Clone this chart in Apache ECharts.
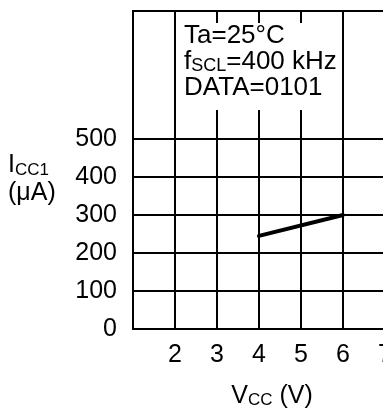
<!DOCTYPE html>
<html>
<head>
<meta charset="utf-8">
<script src="https://cdn.jsdelivr.net/npm/echarts@6/dist/echarts.min.js"></script>
<style>html,body{margin:0;padding:0;background:#fff}#c{width:383px;height:412px}</style>
</head>
<body>
<div id="c"></div>
<script>
const xTicks = [2, 3, 4, 5, 6, 7];
const yTicks = [0, 100, 200, 300, 400, 500];
const gridLevels = [100, 200, 300, 400, 500];
const vcc = [4, 6];
const icc = [245, 300];
const notes = ['Ta=25°C', 'f{s|SCL}=400 kHz', 'DATA=0101'];

const FONT = '"Liberation Sans", Arial, sans-serif';
const chart = echarts.init(document.getElementById('c'), null, {renderer: 'canvas'});
chart.setOption({
  animation: false,
  backgroundColor: '#fff',
  textStyle: {fontFamily: FONT, color: '#000'},
  grid: {left: 133, top: 11, width: 294, height: 318, containLabel: false, outerBoundsMode: 'none',
         show: true, borderColor: '#000', borderWidth: 2, backgroundColor: 'transparent'},
  xAxis: {
    type: 'value', min: 1, max: 8, interval: 1,
    axisLine: {show: true, lineStyle: {color: '#000', width: 2}},
    axisTick: {show: false},
    splitLine: {show: true, lineStyle: {color: '#000', width: 2}},
    axisLabel: {
      margin: 14, fontSize: 25, color: '#000', fontFamily: FONT,
      formatter: v => xTicks.includes(v) ? String(v) : ''
    },
    name: 'V{s|CC} (V)',
    nameLocation: 'middle', nameGap: 55,
    nameTextStyle: {
      fontSize: 25, color: '#000', fontFamily: FONT, padding: [0, 16, 0, 0],
      rich: {s: {fontSize: 17, verticalAlign: 'bottom', padding: [6, 0, 0, 0], fontFamily: FONT, color: '#000'}}
    }
  },
  yAxis: {
    type: 'value', min: 0, max: 837, interval: 100,
    axisLine: {show: true, lineStyle: {color: '#000', width: 2}},
    axisTick: {show: false},
    splitLine: {show: false},
    axisLabel: {
      margin: 16, fontSize: 25, color: '#000', fontFamily: FONT,
      formatter: v => yTicks.includes(v) ? String(v) : ''
    }
  },
  series: [{
    type: 'line',
    data: vcc.map((x, i) => [x, icc[i]]),
    showSymbol: false, symbol: 'none',
    lineStyle: {color: '#000', width: 4, cap: 'round'},
    z: 5,
    markLine: {
      silent: true, symbol: ['none', 'none'],
      label: {show: false},
      lineStyle: {color: '#000', width: 2, type: 'solid'},
      data: gridLevels.map(v => ({yAxis: v}))
    }
  }],
  graphic: [
    {type: 'rect', z: 100, shape: {x: 177, y: 23, width: 164, height: 87}, style: {fill: '#fff'}},
    {type: 'text', z: 101, left: 184, top: 23, style: {
      text: notes.join('\n'), font: '26px ' + FONT, fill: '#000', lineHeight: 26,
      rich: {s: {fontSize: 18, fontFamily: FONT, fill: '#000', verticalAlign: 'bottom', padding: [9, 0, 0, 0]}}
    }},
    {type: 'text', z: 101, left: 8, top: 151, style: {
      text: 'I{s|CC1}\n(μA)', font: '25px ' + FONT, fill: '#000', lineHeight: 28,
      rich: {s: {fontSize: 17, fontFamily: FONT, fill: '#000', verticalAlign: 'bottom', padding: [6, 0, 0, 0]}}
    }}
  ]
});
</script>
</body>
</html>
